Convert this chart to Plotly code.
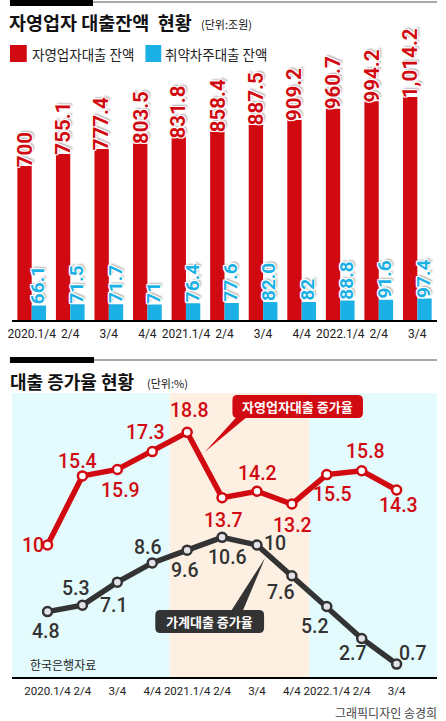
import plotly.graph_objects as go

W, H = 446, 721

# ---------------------------------------------------------------------------
# Data
# ---------------------------------------------------------------------------
quarters = ["2020.1/4", "2/4", "3/4", "4/4", "2021.1/4", "2/4", "3/4", "4/4",
            "2022.1/4", "2/4", "3/4"]

# 대출잔액 (조원)
self_employed_balance = [700, 755.1, 777.4, 803.5, 831.8, 858.4, 887.5, 909.2,
                         960.7, 994.2, 1014.2]
self_employed_balance_text = ["700", "755.1", "777.4", "803.5", "831.8", "858.4",
                              "887.5", "909.2", "960.7", "994.2", "1,014.2"]
vulnerable_balance = [66.1, 71.5, 71.7, 71, 76.4, 77.6, 82.0, 82, 88.8, 91.6, 97.4]
vulnerable_balance_text = ["66.1", "71.5", "71.7", "71", "76.4", "77.6", "82.0",
                           "82", "88.8", "91.6", "97.4"]

# 증가율 (%)
self_employed_growth = [10, 15.4, 15.9, 17.3, 18.8, 13.7, 14.2, 13.2, 15.5, 15.8, 14.3]
household_growth = [4.8, 5.3, 7.1, 8.6, 9.6, 10.6, 10, 7.6, 5.2, 2.7, 0.7]

# label offsets (px) for the growth chart: (dx, dy) with dy pointing down
red_offsets = [(-15, 0), (-5, -14), (3, 21), (-7, -19), (2, -22), (1, 23),
               (1, -18), (1, 21), (6, 20), (4, -19), (2, 16)]
dark_offsets = [(-2, 20), (-6, -17), (-3, 23), (-4, -15), (-2, 20), (5, 20),
                (18, -2), (-11, 17), (-12, 20), (-9, 15), (16, -11)]

RED = "#d10a11"
CYAN = "#1cb1e6"
DARK = "#333333"
KR = "Noto Sans CJK KR"
NUM = "Roboto, sans-serif"
OUTLINE = ("-1px -1px 0 #fff, 1px -1px 0 #fff, -1px 1px 0 #fff, 1px 1px 0 #fff, "
           "2px 2px 2px #aaa")


def px(x):
    return x / W


def py(y):
    return 1 - y / H


def rounded_rect(x0, y0, x1, y1, r):
    rx, ry = r / W, r / H
    a, b, c, d = px(x0), py(y0), px(x1), py(y1)
    return (f"M {a+rx},{b} L {c-rx},{b} Q {c},{b} {c},{b-ry} "
            f"L {c},{d+ry} Q {c},{d} {c-rx},{d} L {a+rx},{d} "
            f"Q {a},{d} {a},{d+ry} L {a},{b-ry} Q {a},{b} {a+rx},{b} Z")


def tri(p1, p2, p3):
    return (f"M {px(p1[0])},{py(p1[1])} L {px(p2[0])},{py(p2[1])} "
            f"L {px(p3[0])},{py(p3[1])} Z")


idx = list(range(len(quarters)))

fig = go.Figure()

# ---------------------------------------------------------------------------
# Top: balances
# ---------------------------------------------------------------------------
fig.add_bar(x=idx, y=self_employed_balance, marker_color=RED, marker_line_width=0,
            xaxis="x", yaxis="y", showlegend=False, hoverinfo="skip")
fig.add_bar(x=idx, y=vulnerable_balance, marker_color=CYAN, marker_line_width=0,
            xaxis="x", yaxis="y", showlegend=False, hoverinfo="skip")

annotations = []
for i, (v, t) in enumerate(zip(self_employed_balance, self_employed_balance_text)):
    annotations.append(dict(x=i, y=v, xref="x", yref="y", text=t, textangle=-90,
                            showarrow=False, xanchor="center", yanchor="bottom",
                            xshift=-7, yshift=-3,
                            font=dict(family="Roboto", size=20.5, color=RED,
                                      weight="bold", shadow=OUTLINE)))
for i, (v, t) in enumerate(zip(vulnerable_balance, vulnerable_balance_text)):
    annotations.append(dict(x=i, y=v, xref="x", yref="y", text=t, textangle=-90,
                            showarrow=False, xanchor="center", yanchor="bottom",
                            xshift=6, yshift=-1,
                            font=dict(family="Roboto", size=19, color=CYAN,
                                      weight="bold", shadow=OUTLINE)))

# ---------------------------------------------------------------------------
# Bottom: growth rates
# ---------------------------------------------------------------------------
fig.add_scatter(x=idx, y=household_growth, mode="lines+markers",
                line=dict(color=DARK, width=5.5),
                marker=dict(size=9, color="#e2e2e8", line=dict(color=DARK, width=2.5)),
                xaxis="x2", yaxis="y2", showlegend=False, hoverinfo="skip")
fig.add_scatter(x=idx, y=self_employed_growth, mode="lines+markers",
                line=dict(color=RED, width=5.5),
                marker=dict(size=9, color="white", line=dict(color=RED, width=2.5)),
                xaxis="x2", yaxis="y2", showlegend=False, hoverinfo="skip")

for i, v in enumerate(self_employed_growth):
    dx, dy = red_offsets[i]
    annotations.append(dict(x=i, y=v, xref="x2", yref="y2", text=f"{v:g}",
                            showarrow=False, xshift=dx, yshift=-dy,
                            font=dict(family="Roboto", size=19.5, color=RED,
                                      weight=500)))
for i, v in enumerate(household_growth):
    dx, dy = dark_offsets[i]
    annotations.append(dict(x=i, y=v, xref="x2", yref="y2", text=f"{v:g}",
                            showarrow=False, xshift=dx, yshift=-dy,
                            font=dict(family="Roboto", size=19.5, color=DARK,
                                      weight=500)))

shapes = [
    # header rules
    dict(type="rect", xref="paper", yref="paper", x0=px(5), x1=px(89), y0=py(0), y1=py(6),
         fillcolor="black", line_width=0),
    dict(type="line", xref="paper", yref="paper", x0=px(89), x1=px(437), y0=py(2), y1=py(2),
         line=dict(color="#555", width=1)),
    dict(type="rect", xref="paper", yref="paper", x0=px(5), x1=px(90), y0=py(357), y1=py(363),
         fillcolor="black", line_width=0),
    dict(type="line", xref="paper", yref="paper", x0=px(90), x1=px(437), y0=py(360), y1=py(360),
         line=dict(color="#555", width=1)),
    # legend swatches
    dict(type="rect", xref="paper", yref="paper", x0=px(5), x1=px(22), y0=py(45), y1=py(62),
         fillcolor=RED, line_width=0),
    dict(type="rect", xref="paper", yref="paper", x0=px(142), x1=px(158), y0=py(45), y1=py(62),
         fillcolor=CYAN, line_width=0),
    # growth chart background bands
    dict(type="rect", xref="x2", yref="y2 domain", x0=-1.02, x1=3.5, y0=0, y1=1,
         fillcolor="#e3fbfd", line_width=0, layer="below"),
    dict(type="rect", xref="x2", yref="y2 domain", x0=3.5, x1=7.5, y0=0, y1=1,
         fillcolor="#fdf0e3", line_width=0, layer="below"),
    dict(type="rect", xref="x2", yref="y2 domain", x0=7.5, x1=11.16, y0=0, y1=1,
         fillcolor="#e3fbfd", line_width=0, layer="below"),
    # callouts
    dict(type="path", xref="paper", yref="paper", path=tri((236, 415), (247, 415), (202, 452)),
         fillcolor=RED, line_width=0),
    dict(type="path", xref="paper", yref="paper", path=rounded_rect(230, 395, 362, 418, 5),
         fillcolor=RED, line_width=0),
    dict(type="path", xref="paper", yref="paper", path=tri((228, 612), (240, 612), (263, 558)),
         fillcolor=DARK, line_width=0),
    dict(type="path", xref="paper", yref="paper", path=rounded_rect(152, 610, 262, 633, 5),
         fillcolor=DARK, line_width=0),
]

texts = [
    dict(x=px(2), y=py(22), text="<b>자영업자 대출잔액  현황</b>", xanchor="left",
         font=dict(family=KR, size=18.5, color="#111")),
    dict(x=px(196), y=py(24), text="(단위:조원)", xanchor="left",
         font=dict(family=KR, size=11, color="#111")),
    dict(x=px(25), y=py(54), text="자영업자대출 잔액", xanchor="left",
         font=dict(family=KR, size=13.5, color="#222")),
    dict(x=px(160), y=py(54), text="취약차주대출 잔액", xanchor="left",
         font=dict(family=KR, size=13.5, color="#222")),
    dict(x=px(3), y=py(381), text="<b>대출 증가율 현황</b>", xanchor="left",
         font=dict(family=KR, size=18, color="#111")),
    dict(x=px(142), y=py(383), text="(단위:%)", xanchor="left",
         font=dict(family=KR, size=11, color="#111")),
    dict(x=px(296), y=py(406), text="<b>자영업자대출 증가율</b>", xanchor="center",
         font=dict(family=KR, size=13, color="white")),
    dict(x=px(207), y=py(621), text="<b>가계대출 증가율</b>", xanchor="center",
         font=dict(family=KR, size=13, color="white")),
    dict(x=px(23), y=py(664), text="한국은행자료", xanchor="left",
         font=dict(family=KR, size=12, color="#222")),
    dict(x=px(439), y=py(712), text="그래픽디자인 송경희", xanchor="right",
         font=dict(family=KR, size=12, color="#444")),
]
for t in texts:
    t.update(xref="paper", yref="paper", showarrow=False, yanchor="middle")
annotations.extend(texts)

axis_common = dict(tickmode="array", tickvals=idx, ticktext=quarters, tickangle=0,
                   showline=True, linecolor="black", linewidth=2,
                   showgrid=False, zeroline=False, ticks="", ticklabelstandoff=2)

fig.update_layout(
    width=W, height=H,
    margin=dict(l=0, r=0, t=0, b=0),
    paper_bgcolor="white",
    plot_bgcolor="rgba(0,0,0,0)",
    barmode="group", bargap=0.256, bargroupgap=0,
    shapes=shapes,
    annotations=annotations,
    xaxis=dict(domain=[px(7.5), px(436.5)], range=[-0.5, 10.5], anchor="y",
               tickfont=dict(family=NUM, size=12, color="#222"), **axis_common),
    yaxis=dict(domain=[py(320), py(73.6)], range=[0, 1120], visible=False,
               anchor="x"),
    xaxis2=dict(domain=[px(7), px(437)], range=[-1.02, 11.16], anchor="y2",
                tickfont=dict(family=NUM, size=11.5, color="#222"), **axis_common),
    yaxis2=dict(domain=[py(677), py(393)], range=[-0.31, 21.875], visible=False,
                anchor="x2"),
)

fig.write_html("out.html", config={"displayModeBar": False},
               post_script="document.body.style.margin='0';")
